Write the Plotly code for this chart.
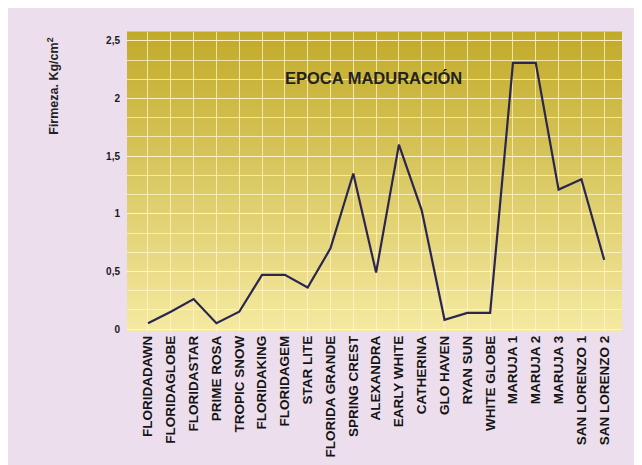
import plotly.graph_objects as go

categories = ["FLORIDADAWN", "FLORIDAGLOBE", "FLORIDASTAR", "PRIME ROSA", "TROPIC SNOW",
              "FLORIDAKING", "FLORIDAGEM", "STAR LITE", "FLORIDA GRANDE", "SPRING CREST",
              "ALEXANDRA", "EARLY WHITE", "CATHERINA", "GLO HAVEN", "RYAN SUN",
              "WHITE GLOBE", "MARUJA 1", "MARUJA 2", "MARUJA 3", "SAN LORENZO 1",
              "SAN LORENZO 2"]
firmeza = [0.05, 0.15, 0.26, 0.05, 0.15,
           0.47, 0.47, 0.36, 0.70, 1.35,
           0.49, 1.60, 1.03, 0.08, 0.14,
           0.14, 2.31, 2.31, 1.21, 1.30,
           0.60]
y_ticks = [0, 0.5, 1, 1.5, 2, 2.5]

FONT = "Liberation Sans, Arial, sans-serif"

fig = go.Figure()
fig.add_trace(go.Scatter(
    x=categories, y=firmeza, mode="lines",
    line=dict(color="#2b2552", width=2.2),
    hoverinfo="x+y", showlegend=False,
))

# vertical gradient plot background made of thin bands
top = (0xc2, 0xab, 0x2a)
bot = (0xf4, 0xe9, 0xa0)
N = 60
shapes = []
for i in range(N):
    t = i / (N - 1)
    c = tuple(int(round(bot[k] + (top[k] - bot[k]) * t)) for k in range(3))
    shapes.append(dict(type="rect", xref="paper", yref="paper",
                       x0=0, x1=1, y0=i / N, y1=(i + 1) / N + 0.002,
                       fillcolor="rgb(%d,%d,%d)" % c, line=dict(width=0),
                       layer="below"))

GRID = "rgba(255,246,205,0.75)"

fig.update_layout(
    width=642, height=465,
    margin=dict(l=119, r=28, t=24, b=141),
    paper_bgcolor="#ecdeec",
    plot_bgcolor="rgba(0,0,0,0)",
    separators=", ",
    shapes=shapes,
    font=dict(family=FONT, color="#1a1a1a"),
    xaxis=dict(
        type="category", range=[-0.92, 20.78],
        tickangle=-90, showgrid=True, gridcolor=GRID, gridwidth=1,
        tickfont=dict(size=13.5, family=FONT, weight="bold", color="#141414"),
        showline=False, zeroline=False, ticks="",
    ),
    yaxis=dict(
        range=[-0.026, 2.578], tickvals=y_ticks,
        showgrid=True, gridcolor=GRID, gridwidth=1,
        minor=dict(dtick=0.5 / 3, showgrid=True, gridcolor=GRID, gridwidth=1),
        tickfont=dict(size=10, family=FONT, weight="bold", color="#1a1a1a"),
        ticklabelstandoff=6,
        showline=False, zeroline=False, ticks="",
    ),
    annotations=[
        dict(text="EPOCA MADURACIÓN", xref="paper", yref="paper",
             x=0.497, y=0.883, showarrow=False,
             font=dict(size=16.5, family=FONT, weight="bold", color="#222222")),
        dict(text="Firmeza. Kg/cm<sup>2</sup>", xref="paper", yref="paper",
             x=-0.15, y=0.82, textangle=-90, showarrow=False,
             xanchor="center", yanchor="middle",
             font=dict(size=12.5, family=FONT, weight="bold", color="#222222")),
    ],
)

fig.write_html("out.html")
